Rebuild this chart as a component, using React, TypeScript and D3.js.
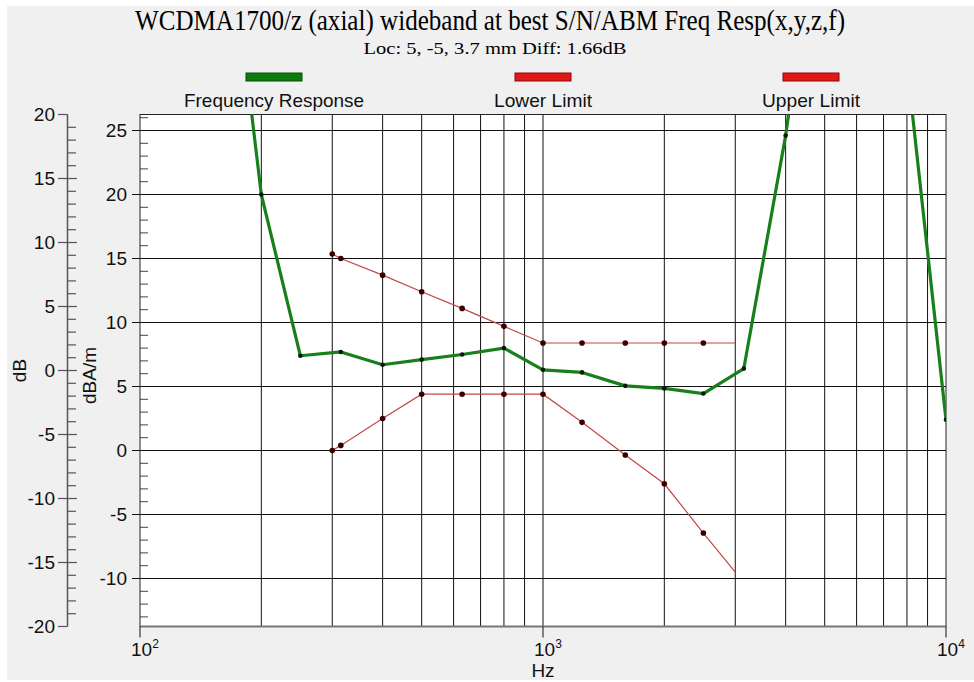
import React from "react";
import * as d3 from "d3";

const title = "WCDMA1700/z (axial) wideband at best S/N/ABM Freq Resp(x,y,z,f)";
const subtitle = "Loc: 5, -5, 3.7 mm Diff: 1.66dB";
const legendLabels = ["Frequency Response", "Lower Limit", "Upper Limit"];

const respFreqs = [160, 200, 250, 315, 400, 500, 630, 800, 1000, 1250, 1600, 2000, 2500, 3150, 4000, 5000, 6300, 8000, 10000];
const respValues = [45.5, 20.0, 7.4, 7.7, 6.7, 7.1, 7.5, 8.0, 6.3, 6.1, 5.05, 4.85, 4.45, 6.4, 24.6, 46.3, 42, 30.2, 2.4];

const limitFreqs = [300, 315, 400, 500, 630, 800, 1000, 1250, 1600, 2000, 2500, 3000];
const lowerValues = [0, 0.4, 2.5, 4.4, 4.4, 4.4, 4.4, 2.2, -0.35, -2.6, -6.45, -9.5];
const upperValues = [15.35, 15.0, 13.7, 12.4, 11.1, 9.7, 8.4, 8.4, 8.4, 8.4, 8.4, 8.4];

const dbTicks = [-20, -15, -10, -5, 0, 5, 10, 15, 20];
const dbamTicks = [-10, -5, 0, 5, 10, 15, 20, 25];
const decadeTicks = [100, 1000, 10000];
const decadeExps = ["2", "3", "4"];

const W = 974, H = 682;
const L = 140, R = 946, T = 114.5, B = 626.5;

export default function App() {
  const x = d3.scaleLog().domain([100, 10000]).range([L, R]);
  const y = d3.scaleLinear().domain([-13.75, 26.25]).range([B, T]);
  const yDb = d3.scaleLinear().domain([-20, 20]).range([B, T]);
  const dbAxisX = 67.5;

  const gridFreqs: number[] = [];
  for (const dec of [100, 1000]) for (let k = 2; k <= 9; k++) gridFreqs.push(dec * k);
  gridFreqs.push(1000);

  const minorDb = d3.range(-20, 21).filter((v) => v % 5 !== 0);
  const minorDbam = d3.range(-13, 27).filter((v) => v % 5 !== 0);

  const line = d3.line<[number, number]>().x((d) => x(d[0])).y((d) => y(d[1]));
  const resp = respFreqs.map((f, i) => [f, respValues[i]] as [number, number]);
  const lower = limitFreqs.map((f, i) => [f, lowerValues[i]] as [number, number]);
  const upper = limitFreqs.map((f, i) => [f, upperValues[i]] as [number, number]);

  const sans = "'Liberation Sans', Arial, sans-serif";
  const serif = "'Liberation Serif', 'Times New Roman', serif";
  const legendX = [274, 543, 811];
  const legendColors = ["#0c7a0c", "#e01818", "#e01818"];
  const legendWidths = [180, 98, 98];
  const fs = 19;

  return (
    <svg width={W} height={H} style={{ position: "absolute", left: 0, top: 0 }} fontFamily={sans}>
      <defs>
        <clipPath id="plotclip">
          <rect x={L} y={T} width={R - L} height={B - T} />
        </clipPath>
      </defs>
      <rect x={0} y={0} width={W} height={H} fill="#ffffff" />
      <rect x={7} y={6} width={W - 7} height={H - 8} fill="#f0f0f0" />
      <text x={490} y={30} textAnchor="middle" fontFamily={serif} fontSize={29} textLength={710} lengthAdjust="spacingAndGlyphs" fill="#000">{title}</text>
      <text x={495} y={54} textAnchor="middle" fontFamily={serif} fontSize={17} textLength={263} lengthAdjust="spacingAndGlyphs" fill="#000">{subtitle}</text>

      {legendLabels.map((lab, i) => (
        <g key={lab}>
          <rect x={legendX[i] - 28} y={73} width={56} height={8} fill={legendColors[i]} stroke={i === 0 ? "#064d06" : "#8a0a0a"} strokeWidth={1} />
          <text x={legendX[i]} y={107} textAnchor="middle" fontSize={fs} textLength={legendWidths[i]} lengthAdjust="spacingAndGlyphs" fill="#111">{lab}</text>
        </g>
      ))}

      <rect x={L} y={T} width={R - L} height={B - T} fill="#ffffff" />

      {gridFreqs.map((f) => (
        <line key={"vg" + f} x1={x(f)} x2={x(f)} y1={T} y2={B} stroke="#111" strokeWidth={1} />
      ))}
      {dbamTicks.map((v) => (
        <line key={"hg" + v} x1={L - 8} x2={R} y1={y(v)} y2={y(v)} stroke="#111" strokeWidth={1} />
      ))}
      {minorDbam.map((v) => (
        <line key={"mt" + v} x1={L} x2={L + 8} y1={y(v)} y2={y(v)} stroke="#444" strokeWidth={1} />
      ))}
      <rect x={L} y={T} width={R - L} height={B - T} fill="none" stroke="#222" strokeWidth={1} />
      <line x1={L} x2={R} y1={B} y2={B} stroke="#777" strokeWidth={2} />
      {decadeTicks.map((f) => (
        <line key={"dt" + f} x1={x(f)} x2={x(f)} y1={B} y2={B + 11} stroke="#111" strokeWidth={1} />
      ))}
      {decadeTicks.map((f, i) => (
        <text key={"dl" + f} x={x(f) - 9} y={656} fontSize={fs} fill="#111">
          10<tspan fontSize={12} dy={-8}>{decadeExps[i]}</tspan>
        </text>
      ))}
      <text x={543} y={677} textAnchor="middle" fontSize={fs} fill="#111">Hz</text>

      {dbamTicks.map((v) => (
        <text key={"yl" + v} x={127} y={y(v)} dy="0.36em" textAnchor="end" fontSize={fs} fill="#111">{v}</text>
      ))}
      <text transform={`translate(96,${(T + B) / 2 + 5}) rotate(-90)`} textAnchor="middle" fontSize={fs} fill="#111">dBA/m</text>

      <line x1={dbAxisX} x2={dbAxisX} y1={T} y2={B} stroke="#555" strokeWidth={1.5} />
      {dbTicks.map((v) => (
        <line key={"dbt" + v} x1={58} x2={v === 20 || v === -20 ? dbAxisX : 77} y1={yDb(v)} y2={yDb(v)} stroke="#555" strokeWidth={1.2} />
      ))}
      {minorDb.map((v) => (
        <line key={"dbm" + v} x1={dbAxisX} x2={76} y1={yDb(v)} y2={yDb(v)} stroke="#555" strokeWidth={1.2} />
      ))}
      {dbTicks.map((v) => (
        <text key={"dbl" + v} x={55} y={yDb(v)} dy="0.36em" textAnchor="end" fontSize={fs} fill="#111">{v}</text>
      ))}
      <text transform={`translate(26,${(T + B) / 2}) rotate(-90)`} textAnchor="middle" fontSize={fs} fill="#111">dB</text>

      <g clipPath="url(#plotclip)">
        <path d={line(lower) || ""} fill="none" stroke="#c04848" strokeWidth={1.2} />
        <path d={line(upper) || ""} fill="none" stroke="#c04848" strokeWidth={1.2} />
        {lower.slice(0, -1).map((d, i) => (
          <circle key={"lm" + i} cx={x(d[0])} cy={y(d[1])} r={2.8} fill="#3a0000" />
        ))}
        {upper.slice(0, -1).map((d, i) => (
          <circle key={"um" + i} cx={x(d[0])} cy={y(d[1])} r={2.8} fill="#3a0000" />
        ))}
        <path d={line(resp) || ""} fill="none" stroke="#17801a" strokeWidth={3.2} strokeLinejoin="round" />
        {resp.map((d, i) => (
          <circle key={"rm" + i} cx={x(d[0])} cy={y(d[1])} r={2.3} fill="#0a1a0a" />
        ))}
      </g>
    </svg>
  );
}
